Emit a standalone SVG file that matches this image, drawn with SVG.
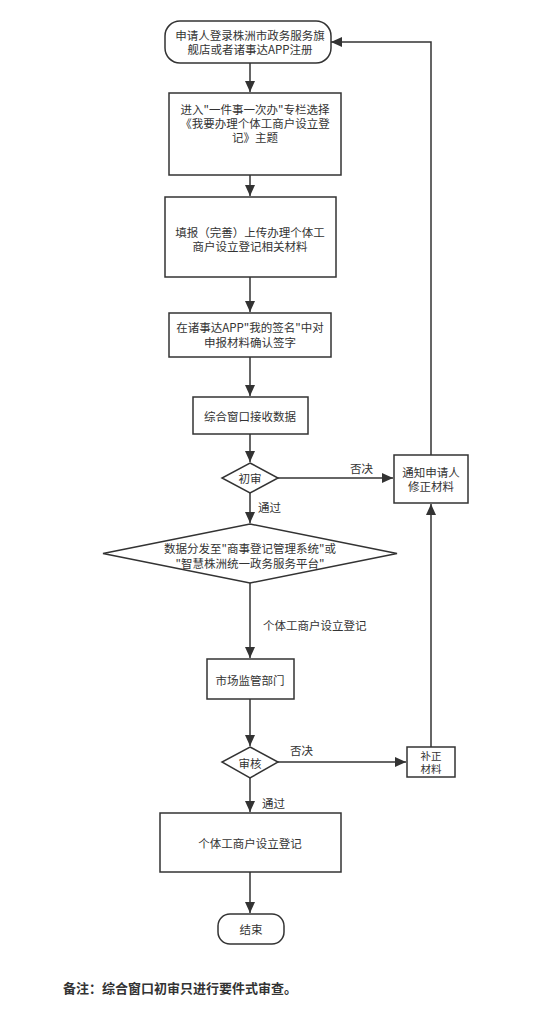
<svg xmlns="http://www.w3.org/2000/svg" width="539" height="1012" viewBox="0 0 539 1012">
<style>
.n{fill:#fff;stroke:#333;stroke-width:1.5}
.t{font-family:"Noto Sans CJK SC","Liberation Sans",sans-serif;font-size:11.5px;fill:#333;text-anchor:middle;dominant-baseline:central}
.s{font-size:10.5px}
.l{font-family:"Noto Sans CJK SC","Liberation Sans",sans-serif;font-size:11.5px;fill:#333;dominant-baseline:central}
.e{fill:none;stroke:#333;stroke-width:1.5}
</style>
<defs>
<marker id="a" markerUnits="userSpaceOnUse" markerWidth="12" markerHeight="10" refX="11" refY="5" orient="auto">
<path d="M0,0 L11,5 L0,10 Z" fill="#333"/>
</marker>
</defs>
<rect width="539" height="1012" fill="#fff"/>
<g id="connectors">
<path class="e" d="M250,63 V92" marker-end="url(#a)"/>
<path class="e" d="M250,175 V196" marker-end="url(#a)"/>
<path class="e" d="M250,277 V312" marker-end="url(#a)"/>
<path class="e" d="M250,357 V396" marker-end="url(#a)"/>
<path class="e" d="M250,434 V462" marker-end="url(#a)"/>
<path class="e" d="M278,478 H393" marker-end="url(#a)"/>
<path class="e" d="M431,455 V42 H331" marker-end="url(#a)"/>
<path class="e" d="M250,493 V523" marker-end="url(#a)"/>
<path class="e" d="M250,583 V658" marker-end="url(#a)"/>
<path class="e" d="M250,699 V746" marker-end="url(#a)"/>
<path class="e" d="M278,762 H406" marker-end="url(#a)"/>
<path class="e" d="M431,747 V504" marker-end="url(#a)"/>
<path class="e" d="M250,778 V812" marker-end="url(#a)"/>
<path class="e" d="M250,872 V913" marker-end="url(#a)"/>
<text class="l" x="350" y="468">否决</text>
<text class="l" x="258" y="507">通过</text>
<text class="l" x="263" y="625">个体工商户设立登记</text>
<text class="l" x="290" y="750">否决</text>
<text class="l" x="262" y="803">通过</text>
</g>
<g id="start">
<rect class="n" x="165" y="21" width="166" height="42" rx="15"/>
<text class="t" x="250" y="35">申请人登录株洲市政务服务旗</text>
<text class="t" x="250" y="49">舰店或者诸事达APP注册</text>
</g>
<g id="enter">
<rect class="n" x="169" y="93" width="172" height="82"/>
<text class="t" x="255" y="109">进入"一件事一次办"专栏选择</text>
<text class="t" x="255" y="123">《我要办理个体工商户设立登</text>
<text class="t" x="255" y="137">记》主题</text>
</g>
<g id="fill">
<rect class="n" x="165" y="197" width="171" height="80"/>
<text class="t" x="250" y="232">填报（完善）上传办理个体工</text>
<text class="t" x="250" y="246">商户设立登记相关材料</text>
</g>
<g id="sign">
<rect class="n" x="169" y="313" width="162" height="44"/>
<text class="t" x="250" y="327">在诸事达APP"我的签名"中对</text>
<text class="t" x="250" y="342">申报材料确认签字</text>
</g>
<g id="receive">
<rect class="n" x="193" y="397" width="115" height="37"/>
<text class="t" x="250" y="416">综合窗口接收数据</text>
</g>
<g id="review1">
<path class="n" d="M250,463 L278,478 L250,493 L222,478 Z"/>
<text class="t" x="250" y="478">初审</text>
</g>
<g id="notify">
<rect class="n" x="394" y="455" width="74" height="48"/>
<text class="t" x="431" y="472">通知申请人</text>
<text class="t" x="431" y="486">修正材料</text>
</g>
<g id="dispatch">
<path class="n" d="M250,524 L397,553.5 L250,583 L103,553.5 Z"/>
<text class="t" x="250" y="548">数据分发至"商事登记管理系统"或</text>
<text class="t" x="250" y="563">"智慧株洲统一政务服务平台"</text>
</g>
<g id="market">
<rect class="n" x="207" y="659" width="87" height="40"/>
<text class="t" x="250" y="680">市场监管部门</text>
</g>
<g id="review2">
<path class="n" d="M250,747 L278,762 L250,778 L222,762 Z"/>
<text class="t" x="250" y="763">审核</text>
</g>
<g id="supplement">
<rect class="n" x="407" y="747" width="48" height="30"/>
<text class="t s" x="431" y="755.5">补正</text>
<text class="t s" x="431" y="768.5">材料</text>
</g>
<g id="register">
<rect class="n" x="160" y="813" width="181" height="59"/>
<text class="t" x="250" y="843">个体工商户设立登记</text>
</g>
<g id="end">
<rect class="n" x="218" y="914" width="66" height="30" rx="12"/>
<text class="t" x="251" y="929">结束</text>
</g>
<text x="63" y="987" font-family="Noto Sans CJK SC,Liberation Sans,sans-serif" font-size="13" font-weight="bold" fill="#333" dominant-baseline="central">备注：综合窗口初审只进行要件式审查。</text>
</svg>
